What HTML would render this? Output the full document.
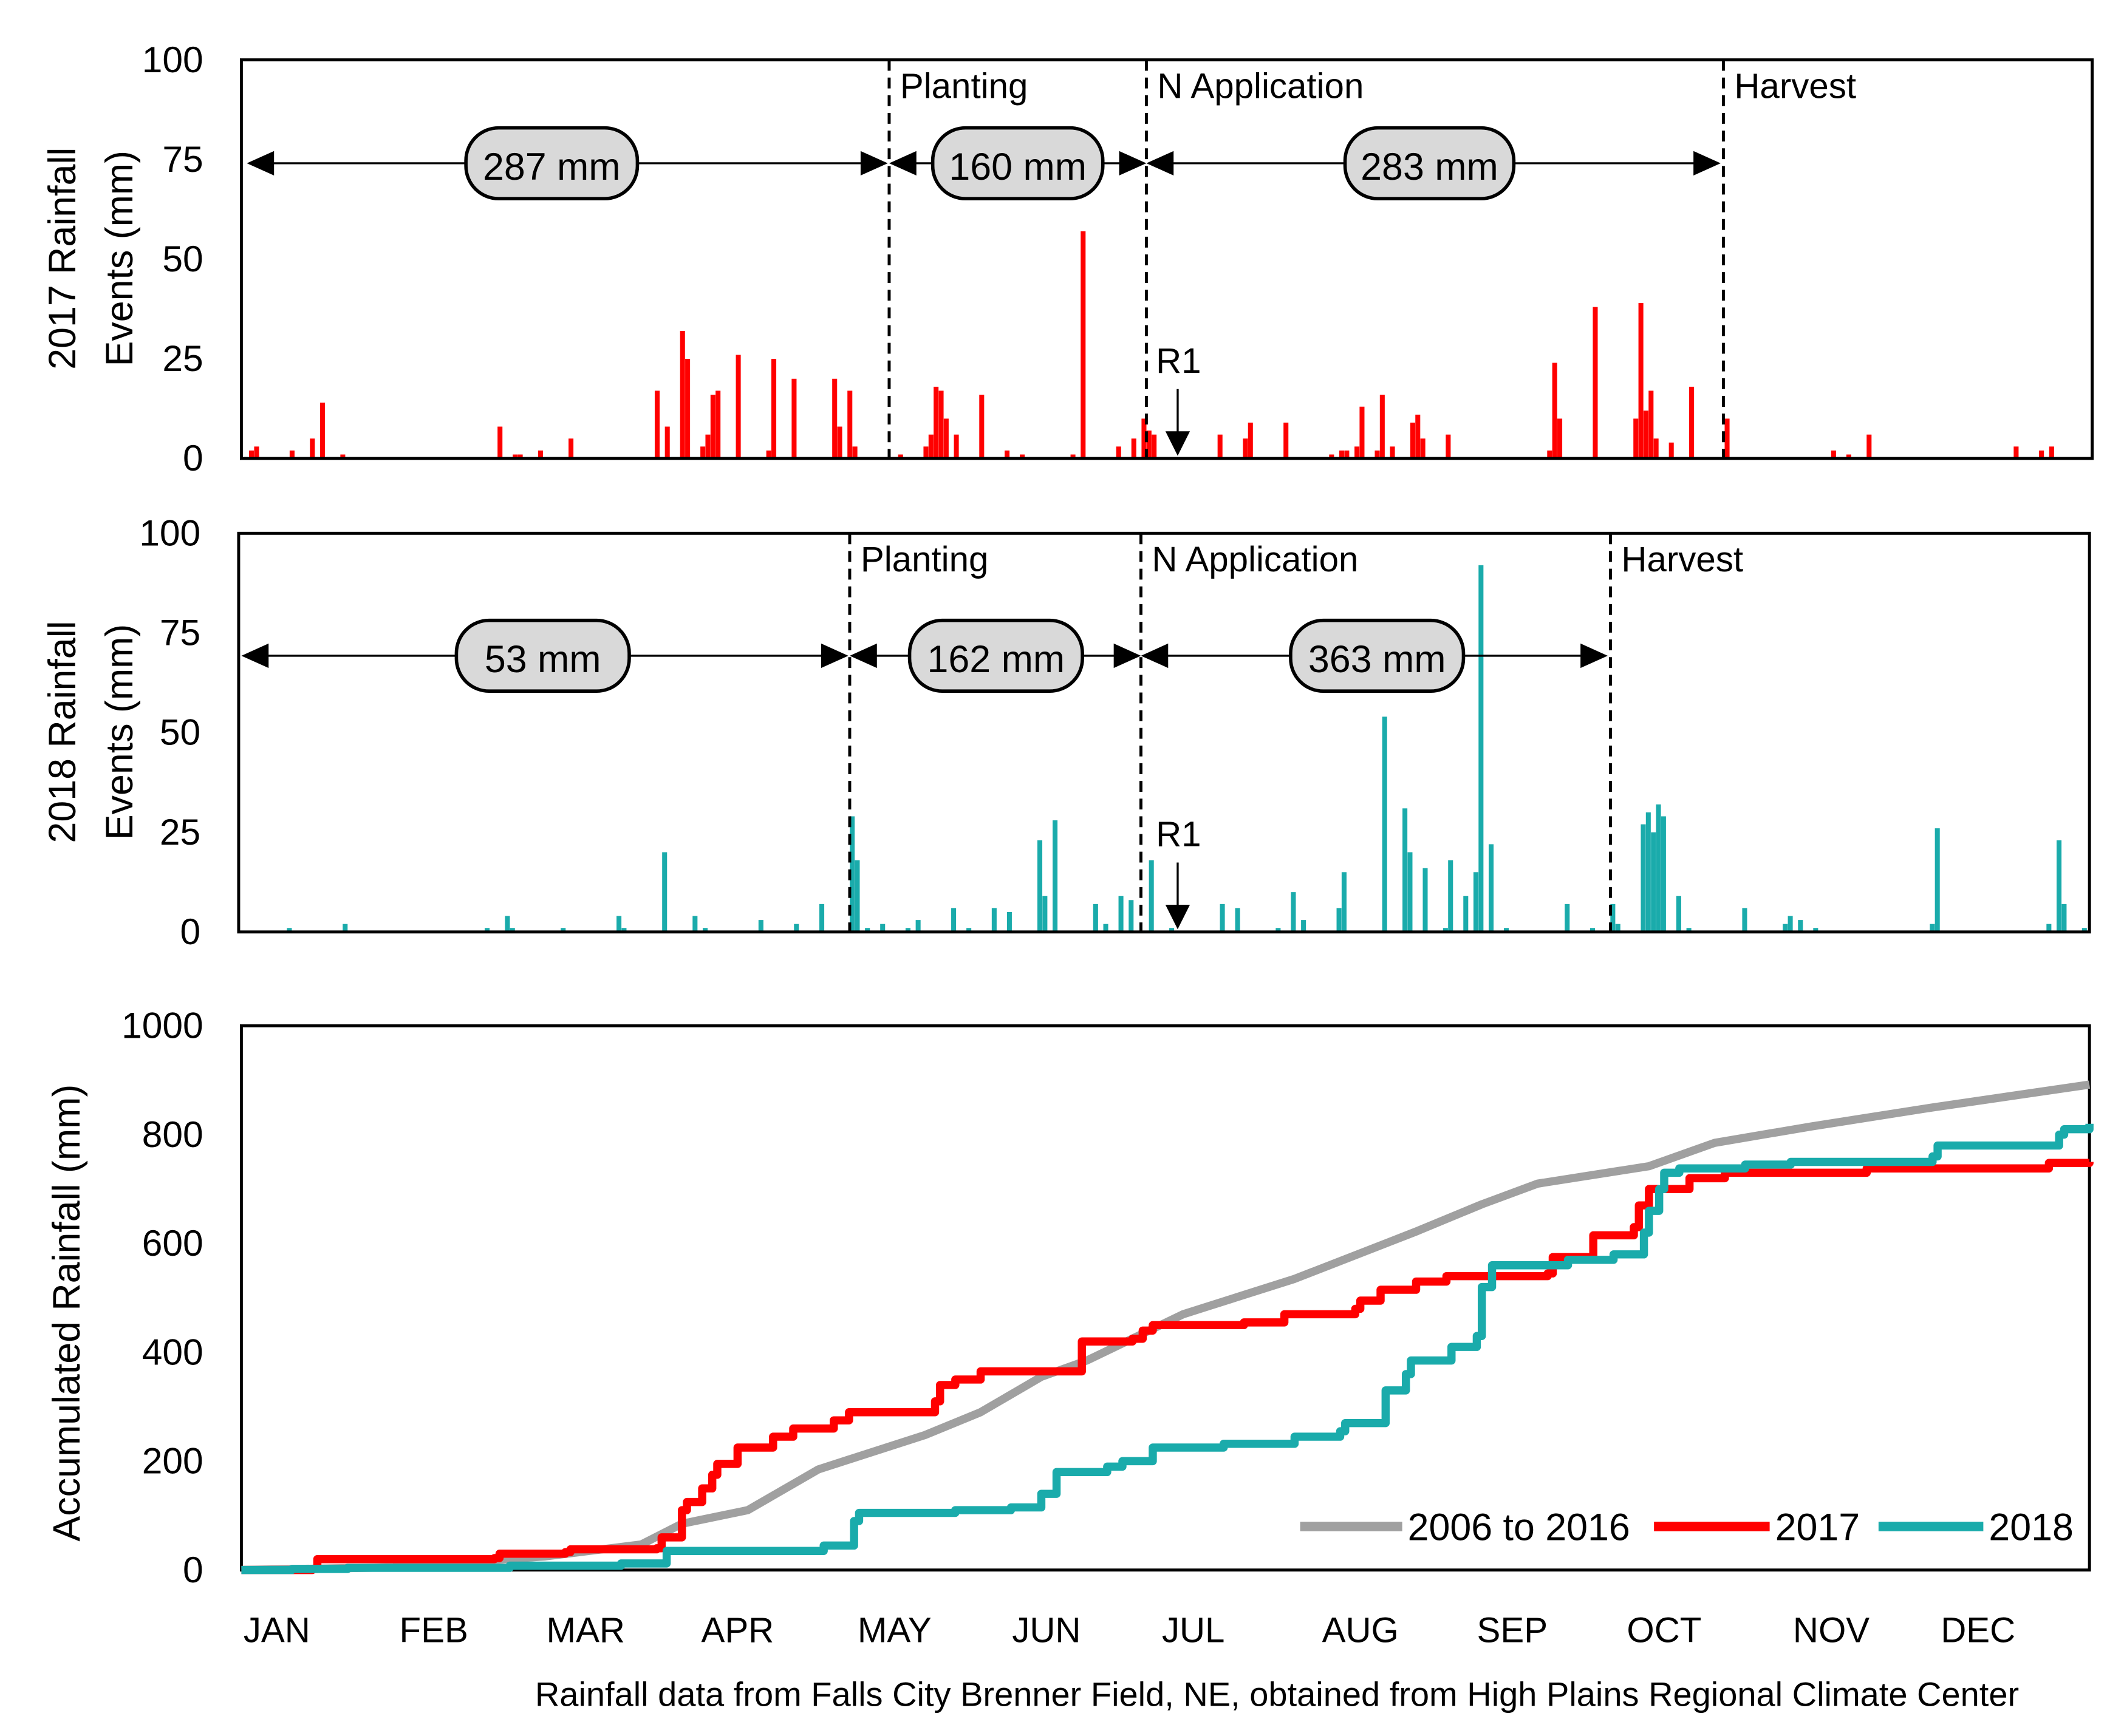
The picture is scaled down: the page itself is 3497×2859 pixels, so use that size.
<!DOCTYPE html>
<html><head><meta charset="utf-8"><style>
html,body{margin:0;padding:0;background:#fff}
svg{display:block;font-family:"Liberation Sans","DejaVu Sans",sans-serif}
</style></head><body>
<svg id="chart" width="3497" height="2859" viewBox="0 0 1560 1276" xmlns="http://www.w3.org/2000/svg">
<g id="g"></g>
</svg>
<script>
const days17 = [2,3,10,14,16,20,51,54,55,59,65,82,84,87,88,91,92,93,94,98,104,105,109,117,118,120,121,130,135,136,137,138,139,141,146,151,154,164,166,173,176,178,179,180,193,198,199,206,215,217,218,220,221,224,225,227,231,232,233,238,258,259,260,267,275,276,277,278,279,282,286,293,314,317,321,350,355,357];
const vals17 = [2,3,2,5,14,1,8,1,1,2,5,17,8,32,25,3,6,16,17,26,2,25,20,20,8,17,3,1,3,6,18,17,10,6,16,2,1,1,57,3,5,10,7,6,6,5,9,9,1,2,2,3,13,2,16,3,9,11,5,6,2,24,10,38,10,39,12,17,5,4,18,10,2,1,6,3,2,3];
const days18 = [10,21,49,53,54,64,75,76,84,90,92,103,110,115,121,122,124,127,132,134,141,144,149,152,158,159,161,169,171,174,176,180,184,194,197,205,208,210,217,218,226,230,231,234,238,239,242,244,245,247,250,262,267,271,272,277,278,279,280,281,284,286,297,305,306,308,311,334,335,357,359,360,364];
const vals18 = [1,2,1,4,1,1,4,1,20,4,1,3,2,7,29,18,1,2,1,3,6,1,6,5,23,9,28,7,2,9,8,18,1,7,6,1,10,3,6,15,54,31,20,16,1,18,9,15,92,22,1,7,1,7,2,27,30,25,32,29,9,1,6,2,4,3,1,2,26,2,23,7,1];
const cumAvg = [[0,0],[30,5],[60,25],[79,47],[87,85],[100,110],[114,185],[135,248],[146,290],[158,355],[167,385],[186,470],[208,535],[232,622],[245,672],[256,710],[278,742],[291,785],[310,815],[334,850],[365,892]];
const cum17 = [[0,0],[14,2],[15,20],[50,22],[51,30],[64,33],[65,38],[82,40],[83,60],[87,110],[88,125],[91,150],[93,175],[94,195],[98,225],[105,245],[109,260],[117,275],[120,290],[136,290],[137,310],[138,340],[141,350],[146,365],[165,365],[166,420],[176,425],[178,440],[180,450],[198,455],[206,470],[220,480],[221,495],[225,515],[232,530],[238,540],[258,545],[259,575],[267,615],[275,630],[276,670],[278,700],[286,720],[293,730],[321,738],[357,748],[365,750]];
const cum18 = [[0,0],[10,2],[21,4],[53,8],[75,12],[84,35],[115,45],[121,90],[122,105],[141,110],[152,115],[158,140],[161,180],[171,190],[174,200],[180,225],[194,232],[208,245],[217,255],[218,270],[226,330],[230,360],[231,385],[239,410],[244,430],[245,520],[247,560],[262,570],[271,580],[277,620],[278,660],[280,700],[281,730],[284,738],[297,745],[306,750],[334,760],[335,780],[359,800],[360,810],[365,820]];
const monthLabels = ["JAN","FEB","MAR","APR","MAY","JUN","JUL","AUG","SEP","OCT","NOV","DEC"];
const monthDays = [7,38,68,98,129,159,188,221,251,281,314,343];
const eventTicks = [0,25,50,75,100];
const cumTicks = [0,200,400,600,800,1000];

const NS="http://www.w3.org/2000/svg";
const G=document.getElementById('g');
function mk(tag,attrs,parent){const e=document.createElementNS(NS,tag);for(const k in attrs)e.setAttribute(k,attrs[k]);(parent||G).appendChild(e);return e;}
function txt(s,x,y,size,anchor,parent){const t=mk('text',{x:x,y:y,'font-size':size,'text-anchor':anchor||'start',fill:'#000'},parent);t.textContent=s;return t;}

const P1={x0:177,x1:1537,y0:337,y1:44,max:100};
const P2={x0:175,x1:1535,y0:685,y1:392,max:100};
const P3={x0:177,x1:1535,y0:1154,y1:754,max:1000};
function xs(p,d){return p.x0+(d/365)*(p.x1-p.x0);}
function ys(p,v){return p.y0-(v/p.max)*(p.y0-p.y1);}

function frame(p,name){
  const r=mk('rect',{x:p.x0,y:p.y1,width:p.x1-p.x0,height:p.y0-p.y1,fill:'none',stroke:'#000','stroke-width':2.2});
  
  
}
function yTicks(p,ticks,name){
  ticks.forEach(t=>{const e=txt(String(t),p.x0-28,ys(p,t)+9,27,'end');
    
    });
}
function bars(p,days,vals,color,name){
  days.forEach((d,i)=>{const x=xs(p,d);const y=ys(p,vals[i]);
    const b=mk('rect',{x:x-1.8,y:y,width:3.6,height:p.y0-y,fill:color});
    
    });
}
function vtitle(lines,cx,cy,name){
  const t=mk('text',{transform:`translate(${cx},${cy}) rotate(-90)`,'font-size':28,'text-anchor':'middle',fill:'#000'});
  
  
  lines.forEach((l,i)=>{const s=mk('tspan',{x:0,dy:i?42:0},t);s.textContent=l;});
}
function dashed(x,p,label,name){
  const l=mk('line',{x1:x,x2:x,y1:p.y1,y2:p.y0,stroke:'#000','stroke-width':2.2,'stroke-dasharray':'8,5'});
  
  
  if(label){const t=txt(label,x+8,p.y1+28,26);
    
    }
}
function span(xa,xb,y,bx,bw,label,name){
  const l=mk('line',{x1:xa+14,x2:xb-14,y1:y,y2:y,stroke:'#000','stroke-width':1.5});
  
  
  mk('polygon',{points:`${xa},${y} ${xa+20},${y-9} ${xa+20},${y+9}`,fill:'#000'});
  mk('polygon',{points:`${xb},${y} ${xb-20},${y-9} ${xb-20},${y+9}`,fill:'#000'});
  const b=mk('rect',{x:bx,y:y-26,width:bw,height:52,rx:24,fill:'#d9d9d9',stroke:'#000','stroke-width':2.5});
  
  
  const t=txt(label,bx+bw/2,y+12,28,'middle');
  
  
}
function r1(x,yt,yb,name){
  const t=txt('R1',x-16,yt,26);
  
  
  mk('line',{x1:x,x2:x,y1:yt+12,y2:yb-14,stroke:'#000','stroke-width':1.5});
  mk('polygon',{points:`${x-9},${yb-18} ${x+9},${yb-18} ${x},${yb}`,fill:'#000'});
}

bars(P1,days17,vals17,'#ff0000','rain-2017');
frame(P1,'panel-2017');
yTicks(P1,eventTicks,'y-2017');
vtitle(['2017 Rainfall','Events (mm)'],55,190,'y-axis-title-2017');
dashed(653,P1,'Planting','planting-2017');
dashed(842,P1,'N Application','n-application-2017');
dashed(1266,P1,'Harvest','harvest-2017');
span(181,652,120,342,126,'287 mm','span-287');
span(653,842,120,685,125,'160 mm','span-160');
span(842,1264,120,988,124,'283 mm','span-283');
r1(865,274,335,'r1-2017');

bars(P2,days18,vals18,'#1aabab','rain-2018');
frame(P2,'panel-2018');
yTicks(P2,eventTicks,'y-2018');
vtitle(['2018 Rainfall','Events (mm)'],55,538,'y-axis-title-2018');
dashed(624,P2,'Planting','planting-2018');
dashed(838,P2,'N Application','n-application-2018');
dashed(1183,P2,'Harvest','harvest-2018');
span(177,623,482,335,127,'53 mm','span-53');
span(624,838,482,668,127,'162 mm','span-162');
span(838,1181,482,948,127,'363 mm','span-363');
r1(865,622,683,'r1-2018');

frame(P3,'panel-accumulated');
yTicks(P3,cumTicks,'y-accum');
vtitle(['Accumulated Rainfall (mm)'],58,965,'y-axis-title-accum');
function smoothPath(pts){return pts.map((p,i)=>(i?'L':'M')+xs(P3,p[0]).toFixed(1)+','+ys(P3,p[1]).toFixed(1)).join(' ');}
function stepPath(pts){let d='';pts.forEach((p,i)=>{const x=xs(P3,p[0]).toFixed(1),y=ys(P3,p[1]).toFixed(1);d+=i?` H${x} V${y}`:`M${x},${y}`;});return d;}
const lg=mk('path',{d:smoothPath(cumAvg),fill:'none',stroke:'#a0a0a0','stroke-width':6,'stroke-linejoin':'round'});


const l7=mk('path',{d:stepPath(cum17),fill:'none',stroke:'#ff0000','stroke-width':6,'stroke-linejoin':'round'});


const l8=mk('path',{d:stepPath(cum18),fill:'none',stroke:'#1aabab','stroke-width':6,'stroke-linejoin':'round'});



[['#a0a0a0','2006 to 2016',955,1030],['#ff0000','2017',1215,1300],['#1aabab','2018',1380,1457]].forEach((e,i)=>{
  const l=mk('line',{x1:e[2],x2:e[3],y1:1122,y2:1122,stroke:e[0],'stroke-width':7});
  
  
  const t=txt(e[1],e[3]+4,1132,28);
  
  
});

monthLabels.forEach((m,i)=>{const t=txt(m,xs(P3,monthDays[i]),1207,26,'middle');
  
  });

const cap=txt('Rainfall data from Falls City Brenner Field, NE, obtained from High Plains Regional Climate Center',938,1254,25,'middle');


</script>
</body></html>
